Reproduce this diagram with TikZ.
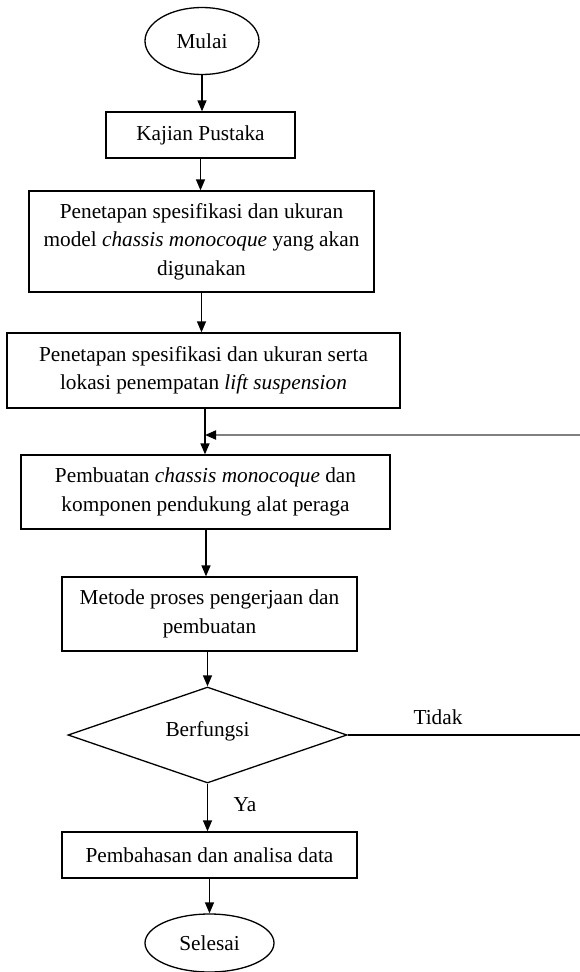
\documentclass[tikz,border=0pt]{standalone}
\usepackage{fontspec}
\setmainfont{Liberation Serif}
\usetikzlibrary{shapes.geometric,arrows.meta}
\begin{document}
\begin{tikzpicture}[x=1pt,y=-1pt,
  every node/.style={font=\fontsize{21.3}{28.5}\selectfont},
  box/.style={draw,line width=1.3pt,rectangle,inner sep=0pt,align=center},
  term/.style={draw,line width=1.3pt,ellipse,inner sep=0pt},
  deci/.style={draw,line width=1.3pt,diamond,inner sep=0pt},
  arr/.style={line width=1.3pt,-{Triangle[length=11pt,width=9pt]}},
  fb/.style={line width=1.9pt,draw=black!50,-{Triangle[length=11pt,width=9pt,fill=black,color=black]}},
  lbl/.style={inner sep=0pt}]
\useasboundingbox (0,0) rectangle (580,972);
\node[term,minimum width=114pt,minimum height=67pt] (mulai) at (202,41) {Mulai};
\node[box,minimum width=189pt,minimum height=46pt] (kajian) at (200.5,135) {Kajian Pustaka};
\node[box,minimum width=345pt,minimum height=101pt] (spek) at (201.5,241.5)
  {Penetapan spesifikasi dan ukuran\\model \textit{chassis monocoque} yang akan\\digunakan};
\node[box,minimum width=393pt,minimum height=75pt] (lokasi) at (203.5,370.5)
  {Penetapan spesifikasi dan ukuran serta\\lokasi penempatan \textit{lift suspension}};
\node[box,minimum width=369pt,minimum height=74pt] (buat) at (205.5,492)
  {Pembuatan \textit{chassis monocoque} dan\\komponen pendukung alat peraga};
\node[box,minimum width=295pt,minimum height=74pt] (metode) at (209.5,614)
  {Metode proses pengerjaan dan\\pembuatan};
\node[deci,minimum width=279pt,minimum height=96pt] (cek) at (207.5,735) {};
\node[lbl] (cektext) at (207.5,731) {Berfungsi};
\node[box,minimum width=295pt,minimum height=46pt] (bahas) at (209.5,855)
  {Pembahasan dan analisa data};
\node[term,minimum width=129pt,minimum height=58pt] (selesai) at (209.5,943) {Selesai};
\coordinate (r1) at (580,735);
\coordinate (r2) at (580,435);
\coordinate (j) at (205,435);
\draw[arr] (mulai.south) -- (mulai.south |- kajian.north);
\draw[arr] (kajian.south) -- (kajian.south |- spek.north);
\draw[arr] (spek.south) -- (spek.south |- lokasi.north);
\draw[arr] (j |- lokasi.south) -- (j |- buat.north);
\draw[arr] (buat.south -| 206,0) -- (metode.north -| 206,0);
\draw[arr] (metode.south -| cek.north) -- (cek.north);
\draw[arr] (cek.south) -- (cek.south |- bahas.north);
\draw[arr] (bahas.south) -- (bahas.south |- selesai.north);
\draw[line width=1.3pt] (cek.east) -- (r1);
\draw[fb] (r2) -- (j);
\node[lbl] (tidak) at (438,717) {Tidak};
\node[lbl] (ya) at (245,805) {Ya};
\end{tikzpicture}
\end{document}
